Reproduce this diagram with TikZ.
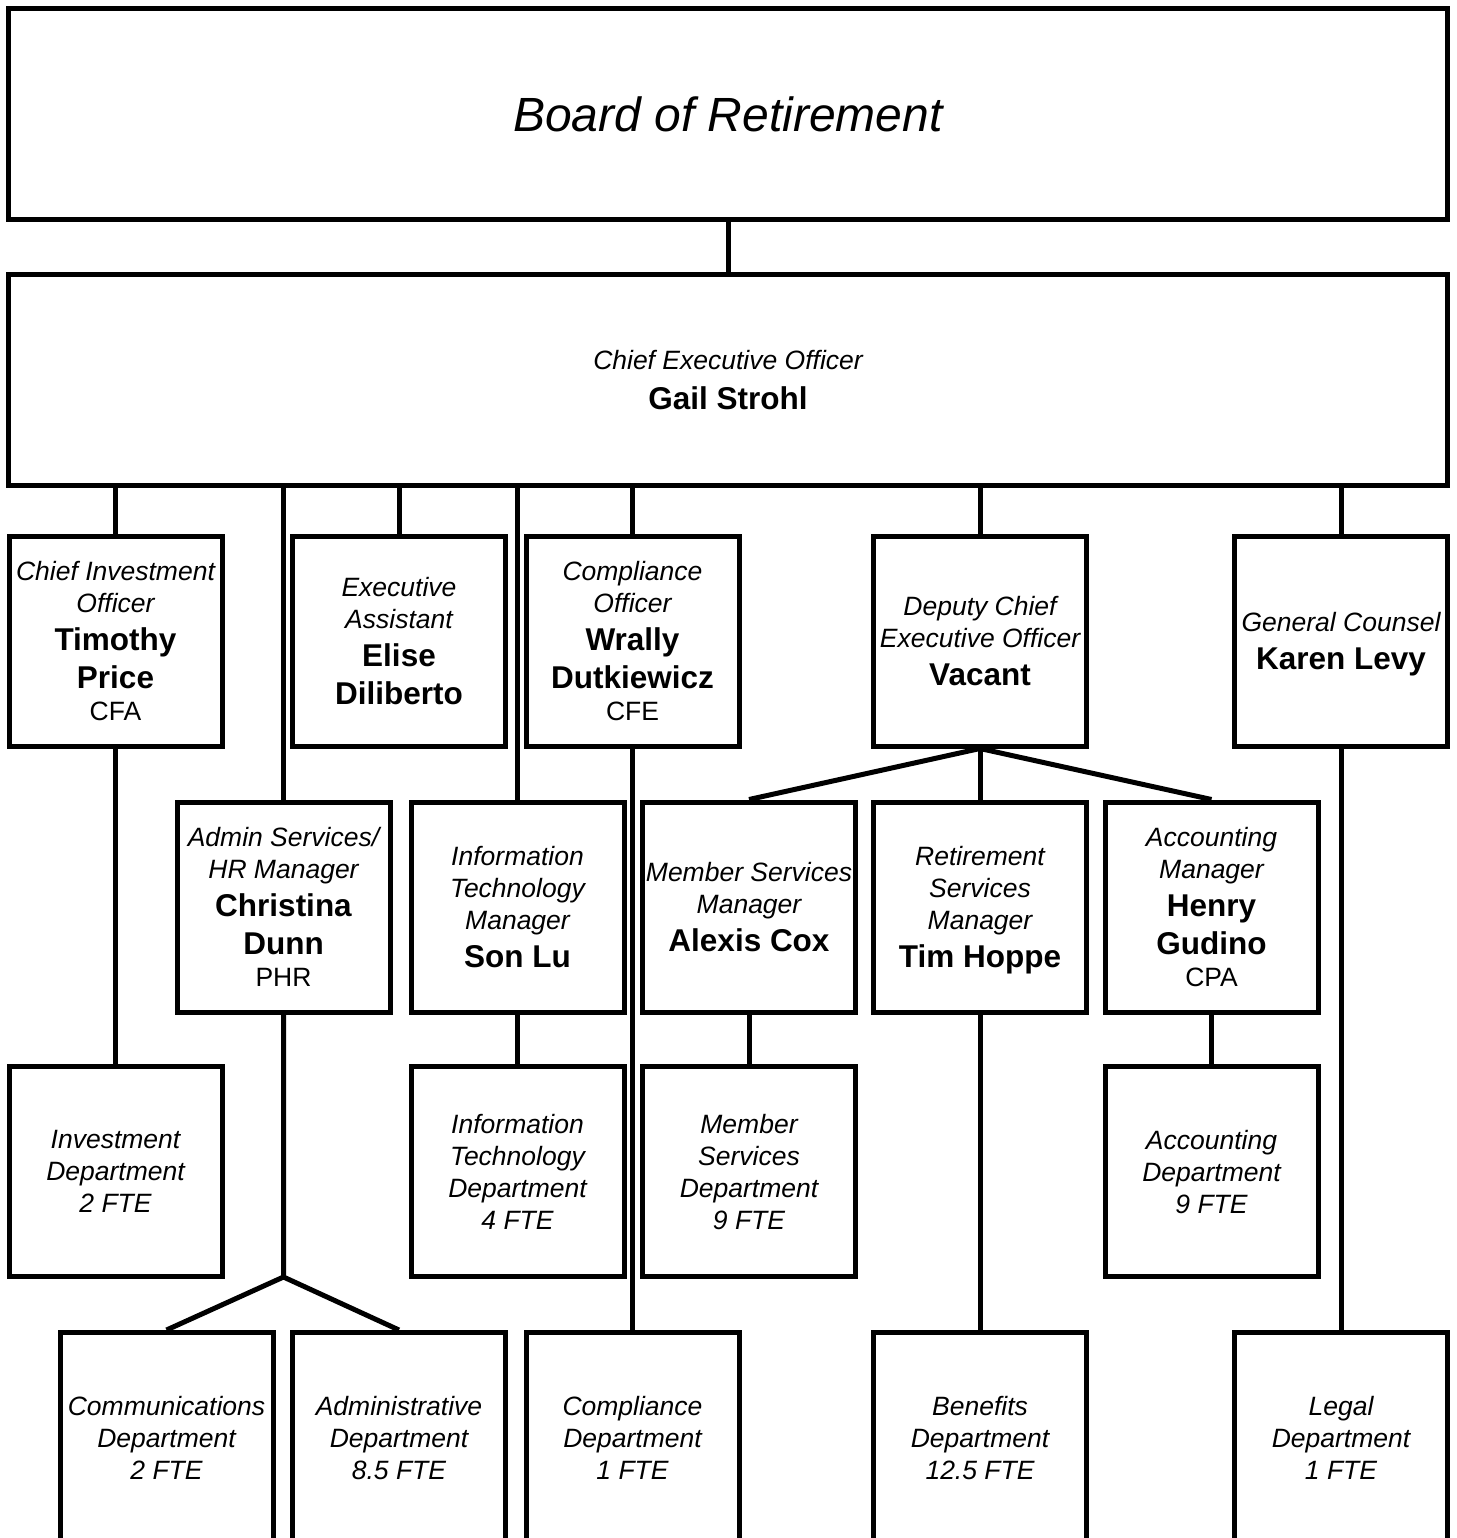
\documentclass[tikz,border=0pt]{standalone}
\usepackage{fontspec}
\setmainfont{Liberation Sans}
\usepackage{tikz}
\newcommand{\jobtitle}[1]{{\itshape #1}}
\newcommand{\person}[1]{{\fontsize{31.5}{38}\selectfont\bfseries #1}}
\newcommand{\credential}[1]{{#1}}

\begin{document}
\begin{tikzpicture}[x=1pt, y=-1pt, line width=5pt,
    unit/.style={draw, line width=5pt, inner sep=0pt, text depth=0pt, minimum width=213pt, minimum height=210pt, align=center, font=\fontsize{26.5}{32}\selectfont},
    dept/.style={unit, font=\fontsize{26.5}{32}\selectfont\itshape},
    wide/.style={unit, minimum width=1439pt, minimum height=211pt}]
            \clip (0,0) rectangle (1456,1538);
            \node[wide, font=\fontsize{48}{56}\selectfont\itshape] (board) at (728,114) {Board of Retirement};
            \node[wide] (ceo) at (728,380) {\jobtitle{Chief Executive Officer}\\[8pt]\person{Gail Strohl}};
            \node[unit] (cio) at (115.5,641) {\jobtitle{Chief Investment}\\\jobtitle{Officer}\\[6pt]\person{Timothy}\\[6pt]\person{Price}\\\credential{CFA}};
            \node[unit] (execasst) at (399,641) {\jobtitle{Executive}\\\jobtitle{Assistant}\\[6pt]\person{Elise}\\[6pt]\person{Diliberto}};
            \node[unit] (compliance) at (632.5,641) {\jobtitle{Compliance}\\\jobtitle{Officer}\\[6pt]\person{Wrally}\\[6pt]\person{Dutkiewicz}\\\credential{CFE}};
            \node[unit] (deputy) at (980,641) {\jobtitle{Deputy Chief}\\\jobtitle{Executive Officer}\\[6pt]\person{Vacant}};
            \node[unit] (counsel) at (1341,641) {\jobtitle{General Counsel}\\[6pt]\person{Karen Levy}};
            \node[unit] (adminhr) at (283.5,907) {\jobtitle{Admin Services/}\\\jobtitle{HR Manager}\\[6pt]\person{Christina}\\[6pt]\person{Dunn}\\\credential{PHR}};
            \node[unit] (itmgr) at (517.5,907) {\jobtitle{Information}\\\jobtitle{Technology}\\\jobtitle{Manager}\\[6pt]\person{Son Lu}};
            \node[unit] (membermgr) at (749,907) {\jobtitle{Member Services}\\\jobtitle{Manager}\\[6pt]\person{Alexis Cox}};
            \node[unit] (retiremgr) at (980,907) {\jobtitle{Retirement}\\\jobtitle{Services}\\\jobtitle{Manager}\\[6pt]\person{Tim Hoppe}};
            \node[unit] (acctmgr) at (1211.5,907) {\jobtitle{Accounting}\\\jobtitle{Manager}\\[6pt]\person{Henry}\\[6pt]\person{Gudino}\\\credential{CPA}};
            \node[dept] (investdept) at (115.5,1171.5) {Investment\\Department\\2 FTE};
            \node[dept] (itdept) at (517.5,1171.5) {Information\\Technology\\Department\\4 FTE};
            \node[dept] (memberdept) at (749,1171.5) {Member\\Services\\Department\\9 FTE};
            \node[dept] (acctdept) at (1211.5,1171.5) {Accounting\\Department\\9 FTE};
            \node[dept] (commdept) at (166.5,1437.5) {Communications\\Department\\2 FTE};
            \node[dept] (admindept) at (399,1437.5) {Administrative\\Department\\8.5 FTE};
            \node[dept] (compdept) at (632.5,1437.5) {Compliance\\Department\\1 FTE};
            \node[dept] (benefitsdept) at (980,1437.5) {Benefits\\Department\\12.5 FTE};
            \node[dept] (legaldept) at (1341,1437.5) {Legal\\Department\\1 FTE};
            \coordinate (adminfork) at (283.5,1277);
            \draw (board) -- (ceo);
            \draw (cio.north) -- (cio.north |- ceo.south);
            \draw (adminhr.north) -- (adminhr.north |- ceo.south);
            \draw (execasst.north) -- (execasst.north |- ceo.south);
            \draw (itmgr.north) -- (itmgr.north |- ceo.south);
            \draw (compliance.north) -- (compliance.north |- ceo.south);
            \draw (deputy.north) -- (deputy.north |- ceo.south);
            \draw (counsel.north) -- (counsel.north |- ceo.south);
            \draw (deputy.south) -- (membermgr.north);
            \draw (deputy) -- (retiremgr);
            \draw (deputy.south) -- (acctmgr.north);
            \draw (cio) -- (investdept);
            \draw (compliance) -- (compdept);
            \draw (counsel) -- (legaldept);
            \draw (itmgr) -- (itdept);
            \draw (membermgr) -- (memberdept);
            \draw (retiremgr) -- (benefitsdept);
            \draw (acctmgr) -- (acctdept);
            \draw (adminhr) -- (adminfork) -- (commdept.north);
            \draw (adminfork) -- (admindept.north);
        \end{tikzpicture}
\end{document}
